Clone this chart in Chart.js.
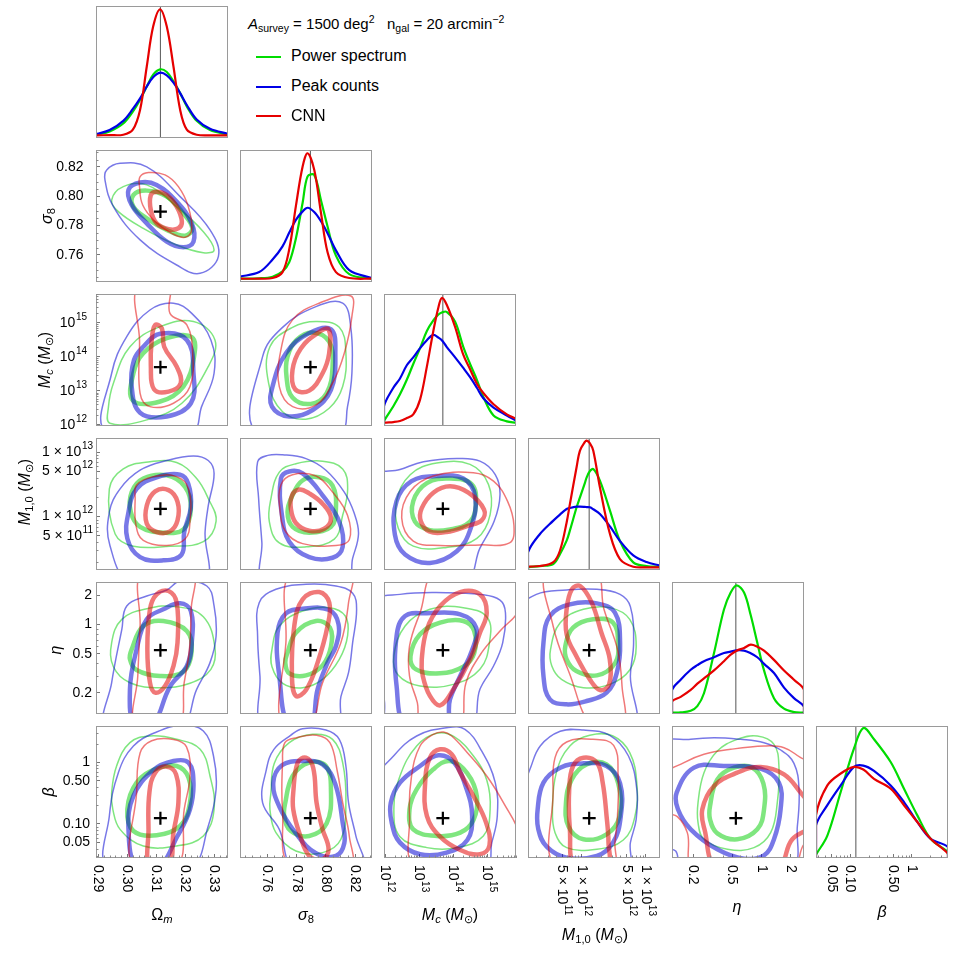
<!DOCTYPE html>
<html>
<head>
<meta charset="utf-8">
<title>Corner plot</title>
<script src="https://cdn.jsdelivr.net/npm/chart.js@4.4.1/dist/chart.umd.min.js"></script>
<style>
  body { margin:0; width:954px; height:957px; position:relative; overflow:hidden; background:#fff; font-family:"Liberation Sans", Arial, sans-serif; color:#000; }
  canvas { position:absolute; }
  .t { position:absolute; font-size:16px; white-space:nowrap; line-height:1; transform:translate(-50%,-50%); }
  .t.v { transform:translate(-50%,-50%) rotate(-90deg); }
  sub { font-size:70%; vertical-align:-0.3em; line-height:0; }
  sup { font-size:70%; vertical-align:0.55em; line-height:0; }
  .hd { position:absolute; left:248px; top:22.5px; font-size:15px; white-space:nowrap; line-height:1; transform:translateY(-50%); }
  .sw { position:absolute; left:256px; width:25px; height:2.5px; }
  .lt { position:absolute; left:291px; font-size:16px; line-height:1; white-space:nowrap; transform:translateY(-50%); }
</style>
</head>
<body>
<script>
// axis ranges; Mc, M1,0, eta and beta are in log10
const omRange = [0.2893, 0.3348];
const s8Range = [0.7415, 0.8315];
const mcRange = [11.97, 15.85];
const m1Range = [11.17, 13.22];
const etaRange = [-0.917, 0.437];
const betaRange = [-1.551, 0.588];
const fiducial = [0.3115, 0.7895, 13.7, 12.12, -0.262, -0.905];

const omTicks = [0.29, 0.30, 0.31, 0.32, 0.33];
const omLabels = ['0.29', '0.30', '0.31', '0.32', '0.33'];
const s8Ticks = [0.76, 0.78, 0.80, 0.82];
const s8Labels = ['0.76', '0.78', '0.80', '0.82'];
const mcTicks = [12, 13, 14, 15];
const mcLabels = ['10^12', '10^13', '10^14', '10^15'];
const m1Ticks = [11.699, 12, 12.699, 13];
const m1Labels = ['5 × 10^11', '1 × 10^12', '5 × 10^12', '1 × 10^13'];
const etaTicks = [-0.699, -0.301, 0, 0.301];
const etaLabels = ['0.2', '0.5', '1', '2'];
const betaTicks = [-1.301, -1, -0.301, 0];
const betaLabels = ['0.05', '0.10', '0.50', '1'];

// 1D marginals (peak-normalised)
const omGrid = [0.2895, 0.294, 0.2987, 0.302, 0.3045, 0.3068, 0.309, 0.3114, 0.3137, 0.316, 0.3183, 0.3206, 0.324, 0.3286, 0.335];
const omPS = [0.025, 0.05, 0.11, 0.2, 0.29, 0.39, 0.48, 0.52, 0.5, 0.43, 0.34, 0.24, 0.13, 0.06, 0.025];
const omPK = [0.03, 0.06, 0.13, 0.22, 0.3, 0.39, 0.46, 0.495, 0.475, 0.42, 0.34, 0.25, 0.14, 0.07, 0.03];
const omCNN = [0.02, 0.022, 0.025, 0.063, 0.214, 0.542, 0.844, 0.975, 0.844, 0.542, 0.214, 0.063, 0.025, 0.02, 0.02];

const s8Grid = [0.741, 0.7546, 0.7637, 0.7705, 0.7751, 0.7796, 0.7842, 0.7876, 0.7921, 0.7967, 0.8012, 0.8069, 0.816, 0.8315];
const s8PS = [0.025, 0.028, 0.04, 0.08, 0.15, 0.33, 0.6, 0.8, 0.81, 0.62, 0.42, 0.2, 0.06, 0.025];
const s8PK = [0.04, 0.075, 0.17, 0.27, 0.375, 0.47, 0.535, 0.5625, 0.53, 0.46, 0.37, 0.24, 0.09, 0.03];
const s8CNN = [0.025, 0.025, 0.03, 0.075, 0.25, 0.575, 0.875, 0.975, 0.85, 0.525, 0.225, 0.075, 0.03, 0.025];

const mcGrid = [11.97, 11.97, 12.245, 12.44, 12.64, 12.83, 13.03, 13.23, 13.42, 13.57, 13.67, 13.81, 14.06, 14.3, 14.5, 14.7, 14.89, 15.19, 15.58, 15.85];
const mcPS = [0.02, 0.038, 0.15, 0.24, 0.35, 0.47, 0.59, 0.72, 0.8, 0.845, 0.86, 0.865, 0.79, 0.6, 0.47, 0.35, 0.22, 0.08, 0.035, 0.025];
const mcPK = [0.0, 0.15, 0.29, 0.36, 0.46, 0.52, 0.59, 0.65, 0.69, 0.67, 0.65, 0.6, 0.52, 0.44, 0.37, 0.29, 0.21, 0.14, 0.08, 0.04];
const mcCNN = [0.02, 0.025, 0.03, 0.038, 0.06, 0.088, 0.2, 0.45, 0.72, 0.9, 0.97, 0.92, 0.75, 0.54, 0.43, 0.32, 0.25, 0.165, 0.088, 0.055];

const m1Grid = [11.17, 11.17, 11.356, 11.563, 11.666, 11.77, 11.821, 11.925, 11.977, 12.054, 12.08, 12.132, 12.184, 12.287, 12.443, 12.598, 12.805, 13.012, 13.22];
const m1PS = [0.018, 0.02, 0.03, 0.045, 0.12, 0.222, 0.3, 0.475, 0.55, 0.66, 0.7, 0.75, 0.765, 0.677, 0.45, 0.22, 0.058, 0.03, 0.025];
const m1PK = [0.0, 0.134, 0.273, 0.374, 0.42, 0.462, 0.47, 0.48, 0.48, 0.478, 0.477, 0.475, 0.46, 0.424, 0.33, 0.22, 0.11, 0.06, 0.033];
const m1CNN = [0.02, 0.025, 0.03, 0.06, 0.146, 0.36, 0.5, 0.78, 0.904, 0.97, 0.98, 0.96, 0.904, 0.626, 0.273, 0.083, 0.025, 0.02, 0.02];

const etaGrid = [-0.917, -0.917, -0.828, -0.725, -0.657, -0.589, -0.486, -0.384, -0.315, -0.254, -0.178, -0.11, -0.042, 0.027, 0.129, 0.232, 0.334, 0.437, 0.437];
const etaPS = [0.008, 0.01, 0.012, 0.025, 0.06, 0.157, 0.462, 0.792, 0.92, 0.975, 0.92, 0.75, 0.54, 0.33, 0.12, 0.04, 0.015, 0.01, 0.008];
const etaPK = [0.0, 0.18, 0.26, 0.335, 0.37, 0.4, 0.43, 0.462, 0.472, 0.482, 0.48, 0.46, 0.43, 0.38, 0.31, 0.2, 0.12, 0.056, 0.0];
const etaCNN = [0.0, 0.094, 0.13, 0.183, 0.23, 0.27, 0.33, 0.4, 0.45, 0.48, 0.5, 0.525, 0.51, 0.48, 0.41, 0.33, 0.26, 0.183, 0.0];

const betaGrid = [-1.551, -1.551, -1.367, -1.151, -0.935, -0.784, -0.611, -0.341, -0.125, 0.091, 0.307, 0.588, 0.588];
const betaPS = [0.02, 0.025, 0.17, 0.5, 0.83, 0.985, 0.9, 0.727, 0.525, 0.323, 0.146, 0.045, 0.02];
const betaPK = [0.0, 0.247, 0.4, 0.55, 0.69, 0.7, 0.66, 0.55, 0.424, 0.273, 0.146, 0.083, 0.0];
const betaCNN = [0.0, 0.323, 0.55, 0.64, 0.69, 0.67, 0.6, 0.525, 0.4, 0.273, 0.146, 0.033, 0.0];

// 2D contours, [inner, outer] as flat x,y lists
const omS8PS = [
  [0.3022,0.8008, 0.3068,0.8038, 0.3137,0.7997, 0.3194,0.7883, 0.3225,0.7781, 0.32,0.7731, 0.3137,0.777, 0.3068,0.7849, 0.3022,0.7929],
  [0.2947,0.7974, 0.2987,0.8065, 0.3068,0.8077, 0.3171,0.7929, 0.3263,0.7758, 0.33,0.7634, 0.3263,0.7615, 0.3171,0.7667, 0.3056,0.7781, 0.297,0.7895]];
const omS8PK = [
  [0.3005,0.8043, 0.3045,0.8093, 0.3102,0.8077, 0.3171,0.7963, 0.3223,0.7815, 0.3229,0.769, 0.3194,0.7652, 0.3137,0.769, 0.3068,0.7815, 0.3016,0.794],
  [0.293,0.8179, 0.2976,0.8224, 0.3068,0.82, 0.3183,0.7997, 0.3286,0.777, 0.3315,0.759, 0.3252,0.7474, 0.3171,0.7531, 0.3045,0.7702, 0.2953,0.7929, 0.2924,0.811]];
const omS8CNN = [
  [0.3082,0.8008, 0.3102,0.8031, 0.3137,0.8008, 0.3171,0.7929, 0.3189,0.7827, 0.3177,0.7781, 0.3143,0.7775, 0.3102,0.7815, 0.3082,0.7906],
  [0.3045,0.8133, 0.3074,0.8161, 0.3131,0.8145, 0.3177,0.8065, 0.3211,0.7929, 0.3223,0.777, 0.32,0.772, 0.3154,0.7747, 0.3097,0.7827, 0.3054,0.794, 0.3043,0.8065]];

const omMcPS = [
  [0.3022,13.52, 0.3056,14.11, 0.3137,14.55, 0.3223,14.58, 0.3231,14.01, 0.3194,13.13, 0.3114,12.69, 0.302,12.72],
  [0.2953,13.23, 0.301,14.3, 0.3114,14.89, 0.3229,15.04, 0.3303,14.5, 0.328,13.72, 0.3189,12.64, 0.3068,12.15, 0.2941,12.05, 0.2936,12.54]];
const omMcPK = [
  [0.3056,14.3, 0.3114,14.68, 0.3206,14.5, 0.3229,13.52, 0.322,12.64, 0.3137,12.25, 0.3045,12.36, 0.3016,13.13, 0.3024,13.91],
  [0.2928,11.8, 0.2947,13.52, 0.2999,14.6, 0.3079,15.38, 0.316,15.58, 0.3223,15.28, 0.3289,14.5, 0.33,13.52, 0.3257,12.54, 0.3223,11.8]];
const omMcCNN = [
  [0.3097,14.94, 0.312,14.84, 0.3128,14.3, 0.3171,13.72, 0.3185,13.23, 0.3143,12.98, 0.3093,13.05, 0.3082,13.72, 0.3085,14.5],
  [0.3036,16.1, 0.3043,14.5, 0.3045,12.93, 0.3079,12.54, 0.316,12.64, 0.3217,13.13, 0.3226,14.11, 0.3206,14.94, 0.3148,15.28, 0.3143,16.1]];

const s8McPS = [
  [0.7739,14.01, 0.7801,14.5, 0.791,14.72, 0.8023,14.45, 0.8046,13.72, 0.8005,12.93, 0.7898,12.62, 0.7773,12.81, 0.7732,13.42],
  [0.7619,14.3, 0.7773,14.87, 0.7933,15.04, 0.8092,14.87, 0.8137,14.11, 0.8115,13.13, 0.8023,12.49, 0.7864,12.17, 0.7705,12.39, 0.761,13.23]];
const s8McPK = [
  [0.7637,13.13, 0.7728,14.11, 0.7887,14.7, 0.8035,14.81, 0.8065,14.11, 0.8035,13.03, 0.791,12.44, 0.7751,12.25, 0.7633,12.54],
  [0.7523,11.8, 0.7569,14.01, 0.7705,14.87, 0.7933,15.48, 0.8115,15.58, 0.8171,14.84, 0.8178,13.52, 0.8148,12.54, 0.8096,11.8]];
const s8McCNN = [
  [0.7773,13.62, 0.783,14.25, 0.7944,14.7, 0.8019,14.81, 0.8023,14.11, 0.7978,13.52, 0.7887,13.01, 0.7791,13.05],
  [0.7773,15.09, 0.7955,15.58, 0.8171,15.79, 0.8178,15.19, 0.8126,14.11, 0.8046,13.23, 0.7933,12.59, 0.7774,12.54, 0.7683,13.13, 0.7694,14.21]];

const omM1PS = [
  [0.3016,12.38, 0.3056,12.59, 0.3137,12.64, 0.32,12.46, 0.322,12.12, 0.3194,11.8, 0.3125,11.75, 0.3045,11.84, 0.3013,12.07],
  [0.2939,12.43, 0.2987,12.74, 0.3079,12.85, 0.3171,12.84, 0.324,12.59, 0.328,12.28, 0.3307,11.93, 0.3263,11.61, 0.3148,11.54, 0.3022,11.54, 0.2959,11.73]];
const omM1PK = [
  [0.3005,12.07, 0.3033,12.43, 0.3102,12.61, 0.3183,12.65, 0.3211,12.51, 0.322,12.15, 0.3197,11.76, 0.3188,11.41, 0.3125,11.32, 0.3045,11.37, 0.3001,11.66],
  [0.301,11.0, 0.2941,11.55, 0.2939,12.07, 0.2976,12.43, 0.3045,12.72, 0.3137,12.87, 0.3229,12.94, 0.328,12.87, 0.33,12.67, 0.328,12.17, 0.3269,11.76, 0.3266,11.0]];
const omM1CNN = [
  [0.3068,12.17, 0.3097,12.39, 0.3143,12.41, 0.3174,12.23, 0.3174,11.94, 0.3148,11.77, 0.3102,11.76, 0.3068,11.89],
  [0.3033,12.49, 0.3091,12.62, 0.3171,12.62, 0.3212,12.43, 0.3217,11.92, 0.32,11.65, 0.3137,11.55, 0.3056,11.63, 0.3031,11.86, 0.3028,12.28]];

const s8M1PS = [
  [0.7773,12.33, 0.7841,12.56, 0.7955,12.61, 0.8046,12.48, 0.8069,12.12, 0.8035,11.84, 0.7887,11.75, 0.7774,11.84, 0.7739,12.07],
  [0.7626,12.28, 0.7683,12.69, 0.7796,12.82, 0.7978,12.86, 0.8115,12.74, 0.8149,12.43, 0.8115,12.02, 0.8058,11.65, 0.7865,11.53, 0.7683,11.59, 0.7615,11.92]];
const s8M1PK = [
  [0.7694,12.59, 0.7751,12.7, 0.7842,12.67, 0.7978,12.33, 0.8092,11.92, 0.8115,11.53, 0.8046,11.36, 0.7887,11.37, 0.7751,11.61, 0.7701,12.02],
  [0.7581,11.0, 0.7564,11.6, 0.7542,12.28, 0.7535,12.85, 0.7604,12.95, 0.7706,12.96, 0.7865,12.9, 0.8001,12.72, 0.8126,12.38, 0.8194,12.05, 0.8223,11.73, 0.8183,11.35, 0.8142,11.0]];
const s8M1CNN = [
  [0.777,12.33, 0.7819,12.42, 0.7887,12.36, 0.7978,12.2, 0.8035,11.98, 0.7989,11.81, 0.7887,11.78, 0.7796,11.9, 0.7762,12.12],
  [0.7694,12.49, 0.7773,12.65, 0.7933,12.63, 0.8046,12.38, 0.8148,12.02, 0.816,11.64, 0.8069,11.55, 0.7842,11.58, 0.7728,11.76, 0.7687,12.12]];

const mcM1PS = [
  [12.83,12.24, 13.23,12.52, 13.91,12.59, 14.55,12.5, 14.67,12.18, 14.5,11.92, 13.91,11.8, 13.32,11.79, 12.88,11.92],
  [12.34,12.24, 12.74,12.65, 13.52,12.83, 14.5,12.81, 15.04,12.5, 15.09,12.03, 14.7,11.66, 13.81,11.52, 12.83,11.54, 12.39,11.82]];
const mcM1PK = [
  [12.34,12.24, 12.78,12.55, 13.52,12.63, 14.3,12.59, 14.65,12.31, 14.52,11.82, 14.11,11.46, 13.32,11.28, 12.59,11.41, 12.29,11.72],
  [11.7,12.61, 12.44,12.73, 13.13,12.85, 14.11,12.9, 14.79,12.86, 15.24,12.65, 15.38,12.34, 15.21,11.93, 14.79,11.51, 14.35,11.0, 11.7,11.0]];
const mcM1CNN = [
  [13.08,12.13, 13.42,12.37, 13.91,12.47, 14.45,12.37, 14.91,12.11, 14.84,11.94, 14.45,11.86, 13.81,11.76, 13.3,11.77, 13.05,11.93],
  [12.49,11.98, 12.74,12.39, 13.42,12.63, 14.6,12.68, 15.19,12.55, 15.6,12.24, 15.79,11.86, 15.66,11.59, 14.79,11.56, 13.62,11.55, 12.83,11.62]];

const omEtaPS = [
  [0.3016,-0.254, 0.3056,-0.014, 0.3125,0.037, 0.3206,-0.066, 0.3223,-0.271, 0.3194,-0.483, 0.3114,-0.527, 0.3033,-0.466, 0.301,-0.356],
  [0.2947,-0.185, 0.2982,0.054, 0.3068,0.163, 0.3171,0.184, 0.3263,0.081, 0.3303,-0.237, 0.3289,-0.459, 0.3217,-0.602, 0.3114,-0.647, 0.301,-0.596, 0.2953,-0.432]];
const omEtaPK = [
  [0.3027,-1.05, 0.301,-0.664, 0.3033,-0.254, 0.3068,0.054, 0.3125,0.157, 0.3183,0.218, 0.322,0.139, 0.3223,-0.185, 0.3206,-0.425, 0.3148,-0.636, 0.3085,-1.05],
  [0.293,-1.05, 0.2947,-0.596, 0.2982,-0.049, 0.2999,0.191, 0.3068,0.293, 0.3137,0.355, 0.3183,0.447, 0.3275,0.396, 0.33,0.191, 0.3307,-0.117, 0.3286,-0.39, 0.324,-0.664, 0.3183,-1.05]];
const omEtaCNN = [
  [0.3079,0.157, 0.3102,0.31, 0.3143,0.345, 0.3171,0.225, 0.3174,-0.185, 0.316,-0.425, 0.3131,-0.63, 0.3097,-0.698, 0.3079,-0.595, 0.307,-0.254],
  [0.3054,0.55, 0.3045,-0.014, 0.3037,-0.527, 0.3031,-1.05, 0.3174,-1.05, 0.3197,-0.596, 0.3215,-0.254, 0.3221,0.157, 0.3223,0.55]];

const s8EtaPS = [
  [0.7739,-0.288, 0.7796,-0.083, 0.7933,0.037, 0.8028,-0.032, 0.8035,-0.227, 0.7978,-0.418, 0.7865,-0.521, 0.7751,-0.5, 0.7724,-0.39],
  [0.7633,-0.254, 0.7683,-0.014, 0.7842,0.14, 0.8024,0.174, 0.8133,0.088, 0.8149,-0.11, 0.8092,-0.356, 0.7978,-0.561, 0.7842,-0.647, 0.7706,-0.602, 0.7633,-0.432]];
const s8EtaPK = [
  [0.7751,-1.05, 0.7683,-0.527, 0.7671,-0.083, 0.7728,0.115, 0.7842,0.163, 0.8024,0.15, 0.8087,0.003, 0.8069,-0.22, 0.8012,-0.39, 0.7944,-0.664, 0.7892,-1.05],
  [0.758,-1.05, 0.7551,-0.527, 0.7535,-0.117, 0.7546,0.225, 0.766,0.362, 0.7865,0.413, 0.8069,0.396, 0.8183,0.321, 0.821,0.157, 0.8183,-0.185, 0.8155,-0.493, 0.8103,-0.739, 0.8069,-1.05]];
const s8EtaCNN = [
  [0.7785,-0.014, 0.7842,0.259, 0.7955,0.334, 0.8024,0.225, 0.8012,-0.014, 0.7944,-0.39, 0.7865,-0.671, 0.7796,-0.732, 0.7769,-0.527],
  [0.7767,0.55, 0.7728,-0.185, 0.7696,-1.05, 0.7887,-1.05, 0.7978,-0.596, 0.8103,-0.185, 0.8155,0.225, 0.8164,0.55]];

const mcEtaPS = [
  [12.75,-0.322, 13.03,-0.1, 13.62,0.02, 14.3,0.037, 14.62,-0.066, 14.62,-0.295, 14.3,-0.432, 13.62,-0.5, 12.91,-0.459],
  [12.26,-0.322, 12.59,-0.014, 13.32,0.157, 14.3,0.174, 15.01,0.071, 15.07,-0.185, 14.79,-0.459, 14.01,-0.613, 13.03,-0.63, 12.39,-0.52]];
const mcEtaPK = [
  [12.64,-1.05, 12.34,-0.63, 12.34,-0.117, 12.59,0.088, 13.23,0.116, 14.21,0.105, 14.68,-0.032, 14.55,-0.271, 14.23,-0.51, 13.91,-0.766, 13.76,-1.05],
  [11.7,0.225, 12.44,0.31, 13.81,0.328, 14.79,0.31, 15.38,0.252, 15.54,0.122, 15.46,-0.185, 15.19,-0.425, 14.79,-0.664, 14.48,-1.05, 12.13,-1.05, 11.95,-0.732, 11.7,-0.664]];
const mcEtaCNN = [
  [13.08,-0.356, 13.23,-0.049, 13.62,0.191, 14.21,0.334, 14.79,0.31, 14.99,0.122, 14.79,-0.083, 14.5,-0.356, 14.01,-0.664, 13.62,-0.828, 13.32,-0.732, 13.11,-0.527],
  [13.52,0.55, 13.03,0.122, 12.72,-0.22, 12.72,-0.527, 12.95,-0.801, 13.08,-1.05, 14.16,-1.05, 14.38,-0.596, 14.84,-0.288, 15.38,-0.066, 15.97,0.174, 15.97,0.55]];

const m1EtaPS = [
  [11.75,-0.22, 11.87,-0.032, 12.18,0.054, 12.49,0.02, 12.57,-0.203, 12.52,-0.398, 12.24,-0.521, 11.92,-0.476, 11.77,-0.356],
  [11.52,-0.254, 11.67,0.02, 12.03,0.157, 12.44,0.174, 12.75,0.054, 12.85,-0.227, 12.75,-0.466, 12.44,-0.613, 12.03,-0.647, 11.69,-0.562, 11.54,-0.425]];
const m1EtaPK = [
  [11.41,-0.185, 11.51,0.088, 11.82,0.207, 12.24,0.218, 12.52,0.122, 12.6,-0.185, 12.55,-0.493, 12.39,-0.698, 12.08,-0.784, 11.77,-0.818, 11.51,-0.767, 11.41,-0.527],
  [11.0,0.122, 11.3,0.31, 11.77,0.355, 12.24,0.362, 12.6,0.31, 12.76,0.184, 12.81,-0.185, 12.76,-0.527, 12.78,-1.05, 11.0,-1.05]];
const m1EtaCNN = [
  [11.77,0.157, 11.85,0.362, 11.98,0.396, 12.16,0.225, 12.31,-0.083, 12.44,-0.356, 12.43,-0.613, 12.29,-0.671, 12.13,-0.562, 11.92,-0.322, 11.77,-0.1],
  [11.46,0.55, 11.56,-0.014, 11.81,-0.493, 12.18,-1.05, 12.64,-1.05, 12.63,-0.63, 12.56,-0.254, 12.35,0.157, 12.21,0.55]];

const omBetaPS = [
  [0.3001,-0.762, 0.3033,-0.33, 0.3102,-0.103, 0.3171,-0.06, 0.3212,-0.249, 0.3217,-0.654, 0.3183,-1.032, 0.3102,-1.184, 0.3022,-1.113],
  [0.2947,-0.492, 0.2964,-0.06, 0.301,0.318, 0.3079,0.426, 0.3171,0.372, 0.3252,0.21, 0.3286,-0.222, 0.33,-0.762, 0.3263,-1.194, 0.3171,-1.356, 0.3056,-1.356, 0.2976,-1.087, 0.2951,-0.762]];
const omBetaPK = [
  [0.3033,-1.7, 0.3005,-1.087, 0.3022,-0.546, 0.3091,-0.125, 0.316,0.021, 0.3212,-0.006, 0.3229,-0.33, 0.3217,-0.762, 0.3174,-1.194, 0.3108,-1.7],
  [0.2936,-1.7, 0.2939,-0.87, 0.297,-0.168, 0.3022,0.264, 0.3102,0.491, 0.3189,0.599, 0.3263,0.507, 0.3298,0.102, 0.3307,-0.438, 0.328,-1.032, 0.3217,-1.7]];
const omBetaCNN = [
  [0.3077,-0.492, 0.3097,-0.168, 0.3137,-0.071, 0.3169,-0.195, 0.3177,-0.654, 0.316,-1.14, 0.3143,-1.7, 0.3079,-1.7, 0.3074,-1.087],
  [0.302,-1.7, 0.3033,-0.492, 0.3045,0.15, 0.3085,0.35, 0.316,0.37, 0.3205,0.25, 0.3217,-0.222, 0.3197,-0.762, 0.3171,-1.7]];

const s8BetaPS = [
  [0.7724,-0.654, 0.7774,-0.222, 0.7887,-0.006, 0.8001,-0.06, 0.8035,-0.438, 0.8006,-0.989, 0.7887,-1.194, 0.7762,-1.113, 0.7717,-0.881],
  [0.7626,-0.492, 0.7649,-0.017, 0.7751,0.318, 0.791,0.453, 0.8046,0.372, 0.8115,-0.006, 0.8137,-0.654, 0.8103,-1.248, 0.7978,-1.464, 0.7796,-1.437, 0.766,-1.14, 0.7619,-0.762]];
const s8BetaPK = [
  [0.7642,-0.33, 0.7701,-0.049, 0.7842,0.021, 0.7978,-0.033, 0.8065,-0.357, 0.8115,-0.978, 0.8126,-1.313, 0.8069,-1.518, 0.7933,-1.475, 0.7796,-1.151, 0.7683,-0.719],
  [0.7595,-0.114, 0.7646,0.21, 0.776,0.437, 0.7842,0.545, 0.8001,0.523, 0.8092,0.372, 0.8137,-0.06, 0.8155,-0.654, 0.8205,-1.194, 0.8246,-1.7, 0.7785,-1.7, 0.7683,-1.086, 0.7569,-0.654]];
const s8BetaCNN = [
  [0.7778,-0.492, 0.7808,-0.006, 0.7864,0.075, 0.7914,-0.087, 0.7937,-0.654, 0.7978,-1.086, 0.8019,-1.41, 0.7978,-1.572, 0.7887,-1.518, 0.7819,-1.14, 0.7778,-0.762],
  [0.7705,-0.006, 0.7721,0.318, 0.7801,0.399, 0.7937,0.437, 0.8028,0.318, 0.8078,-0.141, 0.8115,-0.654, 0.816,-1.194, 0.8164,-1.7, 0.7762,-1.7, 0.7705,-0.762]];

const mcBetaPS = [
  [12.72,-0.762, 12.93,-0.438, 13.42,-0.114, 13.91,0.021, 14.42,-0.179, 14.7,-0.557, 14.6,-0.935, 14.21,-1.14, 13.52,-1.194, 12.83,-1.086],
  [12.26,-0.762, 12.44,-0.222, 12.93,0.264, 13.52,0.469, 14.03,0.415, 14.6,0.102, 14.99,-0.287, 15.09,-0.762, 14.89,-1.194, 14.11,-1.383, 13.23,-1.383, 12.44,-1.205]];
const mcBetaPK = [
  [12.17,-0.654, 12.44,-0.33, 13.03,-0.06, 13.57,0.113, 14.03,-0.006, 14.4,-0.438, 14.56,-0.87, 14.42,-1.259, 13.81,-1.464, 13.03,-1.491, 12.44,-1.302, 12.2,-0.989],
  [11.7,-0.33, 12.25,0.102, 12.93,0.426, 13.81,0.561, 14.35,0.534, 14.84,0.183, 15.24,-0.33, 15.3,-0.87, 15.14,-1.302, 14.94,-1.7, 11.7,-1.7]];
const mcBetaCNN = [
  [13.18,-0.33, 13.32,0.075, 13.62,0.21, 13.96,0.129, 14.21,-0.168, 14.6,-0.546, 14.97,-0.978, 15.07,-1.346, 14.79,-1.491, 14.21,-1.421, 13.62,-1.205, 13.23,-0.87],
  [12.93,-1.7, 12.72,-0.87, 12.78,-0.222, 13.03,0.264, 13.42,0.453, 13.72,0.491, 13.96,0.426, 14.42,0.156, 14.99,-0.222, 15.48,-0.654, 15.97,-1.194, 15.97,-1.7]];

const m1BetaPS = [
  [11.76,-0.654, 11.85,-0.276, 12.08,-0.033, 12.39,-0.033, 12.57,-0.341, 12.59,-0.881, 12.39,-1.167, 12.03,-1.248, 11.8,-1.043],
  [11.55,-0.762, 11.61,-0.168, 11.82,0.264, 12.13,0.437, 12.49,0.426, 12.75,0.156, 12.86,-0.341, 12.83,-0.881, 12.65,-1.259, 12.24,-1.41, 11.77,-1.383, 11.59,-1.14]];
const m1BetaPK = [
  [11.32,-0.762, 11.41,-0.33, 11.67,-0.087, 12.03,-0.017, 12.39,-0.06, 12.6,-0.341, 12.61,-0.881, 12.49,-1.302, 12.24,-1.518, 11.77,-1.545, 11.46,-1.367, 11.33,-1.086],
  [11.1,-0.384, 11.2,-0.114, 11.36,0.264, 11.67,0.502, 12.03,0.523, 12.44,0.437, 12.73,0.102, 12.86,-0.438, 12.85,-0.924, 12.76,-1.302, 12.71,-1.7, 11.0,-1.7, 11.0,-0.5]];
const m1BetaCNN = [
  [11.81,-0.438, 11.87,-0.06, 12.03,0.075, 12.24,-0.006, 12.33,-0.33, 12.39,-0.87, 12.42,-1.302, 12.4,-1.7, 11.91,-1.7, 11.82,-1.086],
  [11.59,-1.7, 11.56,-0.492, 11.59,0.075, 11.77,0.329, 12.18,0.372, 12.5,0.275, 12.57,-0.222, 12.56,-0.87, 12.52,-1.302, 12.49,-1.7]];

const etaBetaPS = [
  [-0.527,-0.711, -0.452,-0.276, -0.281,-0.087, -0.093,-0.087, 0.02,-0.341, 0.027,-0.762, -0.042,-1.086, -0.247,-1.248, -0.452,-1.151, -0.527,-0.924],
  [-0.65,-0.654, -0.589,-0.168, -0.452,0.183, -0.247,0.372, -0.042,0.426, 0.129,0.291, 0.18,-0.071, 0.163,-0.654, 0.095,-1.14, -0.076,-1.383, -0.349,-1.41, -0.589,-1.248, -0.65,-0.978]];
const etaBetaPK = [
  [-0.869,-0.492, -0.691,-0.087, -0.384,-0.06, -0.008,-0.103, 0.18,-0.33, 0.197,-0.762, 0.129,-1.248, 0.027,-1.507, -0.179,-1.562, -0.452,-1.41, -0.725,-1.086, -0.856,-0.762],
  [-1.0,0.291, -0.725,0.372, -0.486,0.399, -0.213,0.372, 0.027,0.318, 0.198,0.199, 0.334,-0.017, 0.386,-0.438, 0.369,-1.032, 0.3,-1.7, -0.811,-1.7, -0.879,-1.438, -1.0,-1.346]];
const etaBetaCNN = [
  [-0.452,-1.7, -0.582,-1.097, -0.606,-0.762, -0.486,-0.384, -0.247,-0.168, -0.008,-0.076, 0.232,-0.195, 0.403,-0.492, 0.55,-0.816, 0.55,-1.005, 0.317,-1.248, 0.164,-1.7],
  [-1.0,-0.222, -0.794,-0.006, -0.589,0.129, -0.315,0.21, 0.027,0.264, 0.232,0.237, 0.403,0.075, 0.55,-0.06, 0.55,-1.248, 0.437,-1.329, 0.317,-1.7, -0.691,-1.7, -0.76,-1.14, -0.862,-0.881, -1.0,-0.789]];

const ranges = [omRange, s8Range, mcRange, m1Range, etaRange, betaRange];
const tickVals = [omTicks, s8Ticks, mcTicks, m1Ticks, etaTicks, betaTicks];
const tickText = [omLabels, s8Labels, mcLabels, m1Labels, etaLabels, betaLabels];
const marginals = [
  [omGrid, omPS, omPK, omCNN], [s8Grid, s8PS, s8PK, s8CNN], [mcGrid, mcPS, mcPK, mcCNN],
  [m1Grid, m1PS, m1PK, m1CNN], [etaGrid, etaPS, etaPK, etaCNN], [betaGrid, betaPS, betaPK, betaCNN]];
const pairs = [
  [1, 0, omS8PS, omS8PK, omS8CNN],
  [2, 0, omMcPS, omMcPK, omMcCNN], [2, 1, s8McPS, s8McPK, s8McCNN],
  [3, 0, omM1PS, omM1PK, omM1CNN], [3, 1, s8M1PS, s8M1PK, s8M1CNN], [3, 2, mcM1PS, mcM1PK, mcM1CNN],
  [4, 0, omEtaPS, omEtaPK, omEtaCNN], [4, 1, s8EtaPS, s8EtaPK, s8EtaCNN], [4, 2, mcEtaPS, mcEtaPK, mcEtaCNN], [4, 3, m1EtaPS, m1EtaPK, m1EtaCNN],
  [5, 0, omBetaPS, omBetaPK, omBetaCNN], [5, 1, s8BetaPS, s8BetaPK, s8BetaCNN], [5, 2, mcBetaPS, mcBetaPK, mcBetaCNN],
  [5, 3, m1BetaPS, m1BetaPK, m1BetaCNN], [5, 4, etaBetaPS, etaBetaPK, etaBetaCNN]];

const lineCol = ['#00dc00', '#0000e6', '#e60000'];
const fillCol = ['rgba(0,205,0,0.5)', 'rgba(0,0,210,0.53)', 'rgba(226,0,0,0.53)'];
const yLabelGap = [0, 12.5, 9, 3, 4, 6];
const FONT = '14px "Liberation Sans", Arial, sans-serif';
const SUP = '10px "Liberation Sans", Arial, sans-serif';

const minorTicks = p => {
  const [lo, hi] = ranges[p], out = [];
  if (p < 2) {
    const step = p === 0 ? 0.002 : 0.005;
    for (let v = Math.ceil(lo / step) * step; v <= hi; v += step) out.push(v);
  } else {
    for (let n = Math.floor(lo); n <= Math.ceil(hi); n++) for (let k = 1; k < 10; k++) out.push(n + Math.log10(k));
  }
  return out.filter(v => v >= lo && v <= hi && !tickVals[p].some(t => Math.abs(t - v) < 1e-3));
};

const richWidth = (ctx, s) => {
  const [b, sp] = s.split('^');
  ctx.font = FONT; let w = ctx.measureText(b).width;
  if (sp) { ctx.font = SUP; w += ctx.measureText(sp).width + 0.5; }
  return w;
};
const drawRich = (ctx, s, x, y) => {
  const [b, sp] = s.split('^');
  ctx.font = FONT; ctx.fillText(b, x, y);
  if (sp) { const w = ctx.measureText(b).width; ctx.font = SUP; ctx.fillText(sp, x + w + 0.5, y - 6); }
};

const panelPlugin = {
  id: 'panel',
  afterDraw(chart, args, o) {
    const { ctx, chartArea: a } = chart;
    const xs = chart.scales.x, ys = chart.scales.y;
    ctx.save();
    ctx.strokeStyle = '#9a9a9a'; ctx.lineWidth = 1;
    ctx.strokeRect(a.left + 0.5, a.top + 0.5, a.width - 1, a.height - 1);
    ctx.strokeStyle = '#8a8a8a'; ctx.fillStyle = '#000'; ctx.textBaseline = 'middle'; ctx.textAlign = 'left';
    if (o.row === 5) {
      minorTicks(o.col).forEach(v => {
        const x = Math.round(xs.getPixelForValue(v)) + 0.5;
        ctx.beginPath(); ctx.moveTo(x, a.bottom); ctx.lineTo(x, a.bottom - 2.5); ctx.stroke();
      });
      xs.ticks.forEach((t, i) => {
        ctx.save();
        ctx.translate(xs.getPixelForValue(t.value), a.bottom + 7);
        ctx.rotate(Math.PI / 2);
        drawRich(ctx, tickText[o.col][i], 0, 0);
        ctx.restore();
      });
    }
    if (o.col === 0 && o.row > 0) {
      minorTicks(o.row).forEach(v => {
        const y = Math.round(ys.getPixelForValue(v)) + 0.5;
        ctx.beginPath(); ctx.moveTo(a.left, y); ctx.lineTo(a.left + 2.5, y); ctx.stroke();
      });
      ys.ticks.forEach((t, i) => {
        const s = tickText[o.row][i];
        drawRich(ctx, s, a.left - yLabelGap[o.row] - richWidth(ctx, s), ys.getPixelForValue(t.value));
      });
    }
    ctx.restore();
  }
};

const axis = (p, isX, show, diag) => ({
  type: 'linear', position: isX ? 'bottom' : 'left',
  min: diag ? 0 : ranges[p][0], max: diag ? 1 : ranges[p][1],
  ticks: { display: false },
  grid: { drawOnChartArea: false, drawTicks: show, tickLength: -4, color: '#777' },
  border: { display: false },
  afterBuildTicks: s => { s.ticks = diag ? [] : tickVals[p].map(v => ({ value: v })); },
  afterFit: s => { if (isX) s.height = 110; else s.width = 100; }
});

const makePanel = (row, col, datasets) => {
  const cv = document.createElement('canvas');
  cv.width = 244; cv.height = 254;
  cv.style.left = `${96 + 144 * col - 100}px`;
  cv.style.top = `${6 + 144 * row - 12}px`;
  document.body.appendChild(cv);
  return new Chart(cv, {
    type: 'line',
    data: { datasets },
    options: {
      responsive: false, animation: false, events: [],
      layout: { padding: { top: 12, right: 12, left: 0, bottom: 0 } },
      plugins: { legend: { display: false }, tooltip: { enabled: false }, panel: { row, col } },
      scales: { x: axis(col, true, row === 5, false), y: axis(row, false, col === 0 && row !== col, row === col) }
    },
    plugins: [panelPlugin]
  });
};

const contour = (flat, color, width, order) => {
  const pts = [];
  for (let k = 0; k < flat.length; k += 2) pts.push({ x: flat[k], y: flat[k + 1] });
  const n = pts.length;
  return {
    data: [pts[n - 1], ...pts, pts[0], pts[1]],
    borderColor: color, borderWidth: width, pointRadius: 0, tension: 0.4, clip: 0, order, capBezierPoints: false,
    segment: { borderColor: c => (c.p0DataIndex === 0 || c.p0DataIndex === n + 1) ? 'rgba(0,0,0,0)' : undefined }
  };
};

const cross = (x, y) => ({
  data: [{ x, y }], showLine: false, pointStyle: 'cross', pointRadius: 6.5,
  pointBorderWidth: 2.2, pointBorderColor: '#000', borderColor: '#000', order: 0
});

// diagonal panels
marginals.forEach(([grid, ...series], p) => {
  const ds = series.map((vals, s) => ({
    data: grid.map((x, i) => ({ x, y: vals[i] })),
    borderColor: lineCol[s], borderWidth: 2.2, pointRadius: 0, tension: 0.35, clip: 0, order: 3 - s
  }));
  ds.push({ data: [{ x: fiducial[p], y: 0 }, { x: fiducial[p], y: 1 }], borderColor: '#555', borderWidth: 1, pointRadius: 0, order: 5 });
  makePanel(p, p, ds);
});

// off-diagonal panels
pairs.forEach(([row, col, ...sets]) => {
  const ds = [];
  sets.forEach((pair, s) => {
    ds.push(contour(pair[0], fillCol[s], 4.5, 3 - s));
    ds.push(contour(pair[1], fillCol[s], 1.5, 3 - s));
  });
  ds.push(cross(fiducial[col], fiducial[row]));
  makePanel(row, col, ds);
});
</script>

<div class="hd"><i>A</i><sub>survey</sub> = 1500 deg<sup>2</sup>&nbsp;&nbsp;&nbsp;n<sub>gal</sub> = 20 arcmin<sup>−2</sup></div>
<div class="sw" style="top:55.5px;background:#00dc00"></div><div class="lt" style="top:56px">Power spectrum</div>
<div class="sw" style="top:85.5px;background:#0000e6"></div><div class="lt" style="top:86px">Peak counts</div>
<div class="sw" style="top:114.8px;background:#e60000"></div><div class="lt" style="top:116px">CNN</div>

<div class="t v" style="left:47px;top:216px"><i>σ</i><sub>8</sub></div>
<div class="t v" style="left:45px;top:360px"><i>M<sub>c</sub></i> (<i>M</i><sub>⊙</sub>)</div>
<div class="t v" style="left:25px;top:492px"><i>M</i><sub>1,0</sub> (<i>M</i><sub>⊙</sub>)</div>
<div class="t v" style="left:56px;top:650px"><i>η</i></div>
<div class="t v" style="left:49px;top:792px"><i>β</i></div>

<div class="t" style="left:162px;top:915px">Ω<sub><i>m</i></sub></div>
<div class="t" style="left:306px;top:915px"><i>σ</i><sub>8</sub></div>
<div class="t" style="left:450px;top:915px"><i>M<sub>c</sub></i> (<i>M</i><sub>⊙</sub>)</div>
<div class="t" style="left:595px;top:935px"><i>M</i><sub>1,0</sub> (<i>M</i><sub>⊙</sub>)</div>
<div class="t" style="left:737px;top:907px"><i>η</i></div>
<div class="t" style="left:882px;top:912px"><i>β</i></div>
</body>
</html>
